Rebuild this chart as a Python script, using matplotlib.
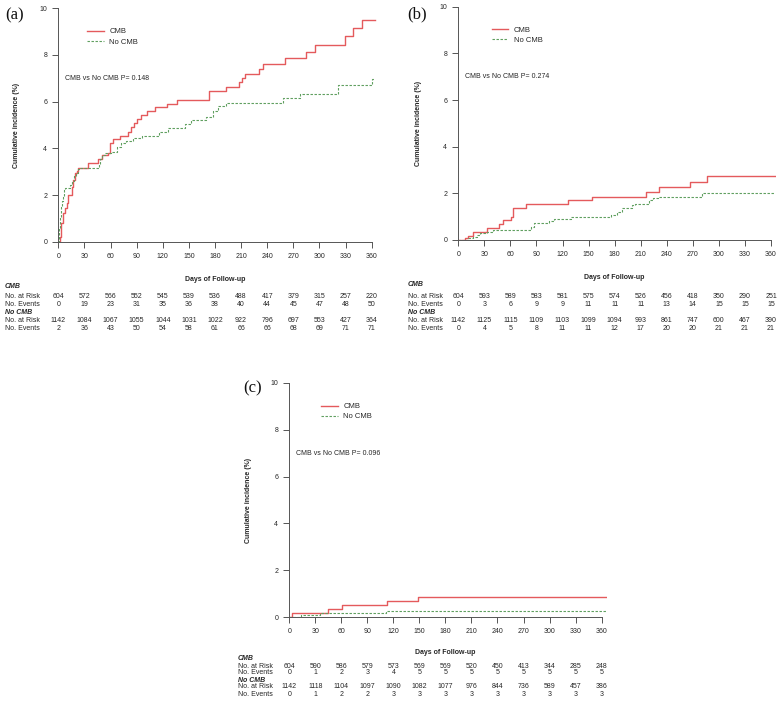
import matplotlib
matplotlib.use("Agg")
import matplotlib.pyplot as plt
from matplotlib.transforms import blended_transform_factory

plt.rcParams["font.family"] = ["Liberation Sans", "DejaVu Sans"]

# --- data ---
# panel (a)
a_cmb_days = [0, 2, 3.5, 5.4, 7.5, 9.6, 11.5, 15.3, 17.2, 19, 21, 23, 34.5, 46, 50, 57.5,
              59.4, 63, 71, 80.4, 83, 87, 90, 95, 101.5, 111, 124.5, 136, 173, 192.6,
              208, 211.5, 214.5, 230.6, 235.6, 260.5, 284.6, 295, 329.4, 339, 348.6, 364]
a_cmb_inc = [0, 0.21, 0.8, 1.23, 1.45, 1.64, 2.0, 2.36, 2.64, 2.93, 3.05, 3.17, 3.36, 3.53, 3.7, 3.79,
             4.22, 4.39, 4.55, 4.72, 4.9, 5.07, 5.24, 5.41, 5.58, 5.76, 5.92, 6.09, 6.45, 6.63,
             6.83, 7.02, 7.2, 7.41, 7.62, 7.86, 8.14, 8.44, 8.8, 9.16, 9.52, 9.52]
a_nocmb_days = [0, 1, 2, 3, 4, 5, 7, 8, 13, 16, 18, 20, 23, 25, 47, 48, 50, 54, 61, 67, 72,
                78, 86, 96, 116, 126, 145, 152, 170, 178, 183, 193, 258.5, 277.7, 321.7, 360.8, 364]
a_nocmb_inc = [0, 0.6, 1.07, 1.5, 1.75, 1.93, 2.2, 2.29, 2.43, 2.6, 2.8, 2.95, 3.1, 3.17, 3.35, 3.55, 3.7,
               3.79, 3.86, 4.05, 4.22, 4.33, 4.43, 4.52, 4.7, 4.87, 5.05, 5.2, 5.35, 5.6, 5.81, 5.94,
               6.17, 6.34, 6.72, 6.98, 6.98]

# panel (b)
b_cmb_days = [0, 8, 11.5, 17, 33, 47, 52, 61, 62.6, 77.6, 126.6, 154, 215.7, 231.4, 266.8, 286.7, 365]
b_cmb_inc = [0, 0.07, 0.19, 0.33, 0.5, 0.67, 0.86, 1.0, 1.36, 1.53, 1.71, 1.86, 2.04, 2.26, 2.5, 2.76, 2.76]
b_nocmb_days = [0, 7, 11, 17, 22, 25, 33, 40, 84, 87, 104, 110, 130, 176, 183, 188, 200, 203,
                220, 224, 230, 281, 365]
b_nocmb_inc = [0, 0.02, 0.07, 0.14, 0.22, 0.31, 0.36, 0.43, 0.57, 0.72, 0.8, 0.88, 0.97, 1.07, 1.21,
               1.36, 1.5, 1.55, 1.71, 1.8, 1.86, 2.02, 2.02]

# panel (c)
c_cmb_days = [0, 3.5, 45, 61, 113, 148, 364.7]
c_cmb_inc = [0, 0.17, 0.34, 0.52, 0.69, 0.86, 0.86]
c_nocmb_days = [0, 14, 35, 111, 364.7]
c_nocmb_inc = [0, 0.09, 0.18, 0.27, 0.27]

tick_days = list(range(0, 361, 30))

a_cmb_risk = [604, 572, 566, 552, 545, 539, 536, 488, 417, 379, 315, 257, 220]
a_cmb_events = [0, 19, 23, 31, 35, 36, 38, 40, 44, 45, 47, 48, 50]
a_nocmb_risk = [1142, 1084, 1067, 1055, 1044, 1031, 1022, 922, 796, 697, 553, 427, 364]
a_nocmb_events = [2, 36, 43, 50, 54, 58, 61, 66, 66, 68, 69, 71, 71]

b_cmb_risk = [604, 593, 589, 583, 581, 575, 574, 526, 456, 418, 350, 290, 251]
b_cmb_events = [0, 3, 6, 9, 9, 11, 11, 11, 13, 14, 15, 15, 15]
b_nocmb_risk = [1142, 1125, 1115, 1109, 1103, 1099, 1094, 993, 861, 747, 600, 467, 390]
b_nocmb_events = [0, 4, 5, 8, 11, 11, 12, 17, 20, 20, 21, 21, 21]

c_cmb_risk = [604, 590, 586, 579, 573, 569, 569, 520, 450, 413, 344, 285, 248]
c_cmb_events = [0, 1, 2, 3, 4, 5, 5, 5, 5, 5, 5, 5, 5]
c_nocmb_risk = [1142, 1118, 1104, 1097, 1090, 1082, 1077, 976, 844, 736, 589, 457, 386]
c_nocmb_events = [0, 1, 2, 2, 3, 3, 3, 3, 3, 3, 3, 3, 3]

p_values = ["0.148", "0.274", "0.096"]

RED = "#e45a5c"
GREEN = "#5f9f5f"
TXT = "#262626"
AX = "#555555"
FS = 5.0
W, H = 783, 710


def px(x, y):
    # pixel coords (top-left origin) -> figure fraction
    return x / W, 1 - y / H


def draw_panel(fig, rect, label, label_xy, ylab_x, pval,
               cmb, nocmb, table, tab_label_x, tab_rows, legend_x):
    ax = fig.add_axes(rect)
    ax.step(cmb[0], cmb[1], where="post", color=RED, lw=1.0, label="CMB")
    ax.step(nocmb[0], nocmb[1], where="post", color=GREEN, lw=0.8,
            ls=(0, (2.2, 1.4)), label="No CMB")
    ax.set_xlim(0, 366)
    ax.set_ylim(0, 10)
    for s in ("top", "right"):
        ax.spines[s].set_visible(False)
    ax.spines["bottom"].set_bounds(0, 360)
    ax.spines["left"].set_bounds(0, 10)
    for s in ("bottom", "left"):
        ax.spines[s].set_color(AX)
        ax.spines[s].set_linewidth(0.7)
    ax.set_xticks(tick_days)
    ax.set_yticks([0, 2, 4, 6, 8, 10])
    ax.tick_params(labelsize=FS, colors=AX, labelcolor=TXT, length=4.5, width=0.7, pad=3.5)

    ax.legend(loc="upper left", bbox_to_anchor=(legend_x, 0.915), frameon=False,
              fontsize=5.5, handlelength=2.2, handletextpad=0.7, labelspacing=0.35,
              borderpad=0, borderaxespad=0, labelcolor=TXT)
    ax.text(0.02, 0.70, f"CMB vs No CMB P= {pval}", transform=ax.transAxes,
            fontsize=FS, color=TXT, va="center")

    fx, fy = px(*label_xy)
    fig.text(fx, fy, label, fontsize=12, family=["Liberation Serif", "DejaVu Serif"],
             va="center", ha="left", color="#111")
    # y label
    cy = rect[1] + rect[3] / 2
    fig.text(ylab_x / W, cy, "Cumulative incidence (%)", rotation=90, fontsize=FS,
             fontweight="bold", va="center", ha="center", color=TXT)

    # risk table below, columns follow the day ticks
    tr = blended_transform_factory(ax.transData, fig.transFigure)
    xl_y, r_cmb, r_risk1, r_ev1, r_nocmb, r_risk2, r_ev2 = tab_rows
    ax.text(180, 1 - xl_y / H, "Days of Follow-up", transform=tr, fontsize=FS,
            fontweight="bold", ha="center", va="center", color=TXT)
    lx = tab_label_x / W
    fig.text(lx, 1 - r_cmb / H, "CMB", fontsize=FS, fontweight="bold",
             style="italic", va="center", color=TXT)
    fig.text(lx, 1 - r_nocmb / H, "No CMB", fontsize=FS, fontweight="bold",
             style="italic", va="center", color=TXT)
    rows = [(r_risk1, "No. at Risk", table[0]), (r_ev1, "No. Events", table[1]),
            (r_risk2, "No. at Risk", table[2]), (r_ev2, "No. Events", table[3])]
    for yy, name, vals in rows:
        fig.text(lx, 1 - yy / H, name, fontsize=FS, va="center", color=TXT)
        for d, v in zip(tick_days, vals):
            ax.text(d, 1 - yy / H, str(v), transform=tr, fontsize=FS,
                    ha="center", va="center", color=TXT)
    return ax


fig = plt.figure(figsize=(W / 100, H / 100), dpi=100)

draw_panel(fig, [58.3 / W, 1 - 241.7 / H, 318.6 / W, 233.4 / H], "(a)", (5, 15), 17,
           p_values[0], (a_cmb_days, a_cmb_inc), (a_nocmb_days, a_nocmb_inc),
           (a_cmb_risk, a_cmb_events, a_nocmb_risk, a_nocmb_events), 5,
           (280, 286, 296, 304, 312, 320, 328), 0.09)
draw_panel(fig, [458.3 / W, 1 - 240 / H, 317.9 / W, 233.3 / H], "(b)", (407, 14), 418,
           p_values[1], (b_cmb_days, b_cmb_inc), (b_nocmb_days, b_nocmb_inc),
           (b_cmb_risk, b_cmb_events, b_nocmb_risk, b_nocmb_events), 408,
           (278, 285, 296, 304, 312, 320, 328), 0.105)
draw_panel(fig, [289.3 / W, 1 - 617 / H, 317.5 / W, 234 / H], "(c)", (243, 388), 248,
           p_values[2], (c_cmb_days, c_cmb_inc), (c_nocmb_days, c_nocmb_inc),
           (c_cmb_risk, c_cmb_events, c_nocmb_risk, c_nocmb_events), 238,
           (652, 659, 666, 673, 680, 687, 694), 0.10)

fig.savefig("out.png", dpi=100)
